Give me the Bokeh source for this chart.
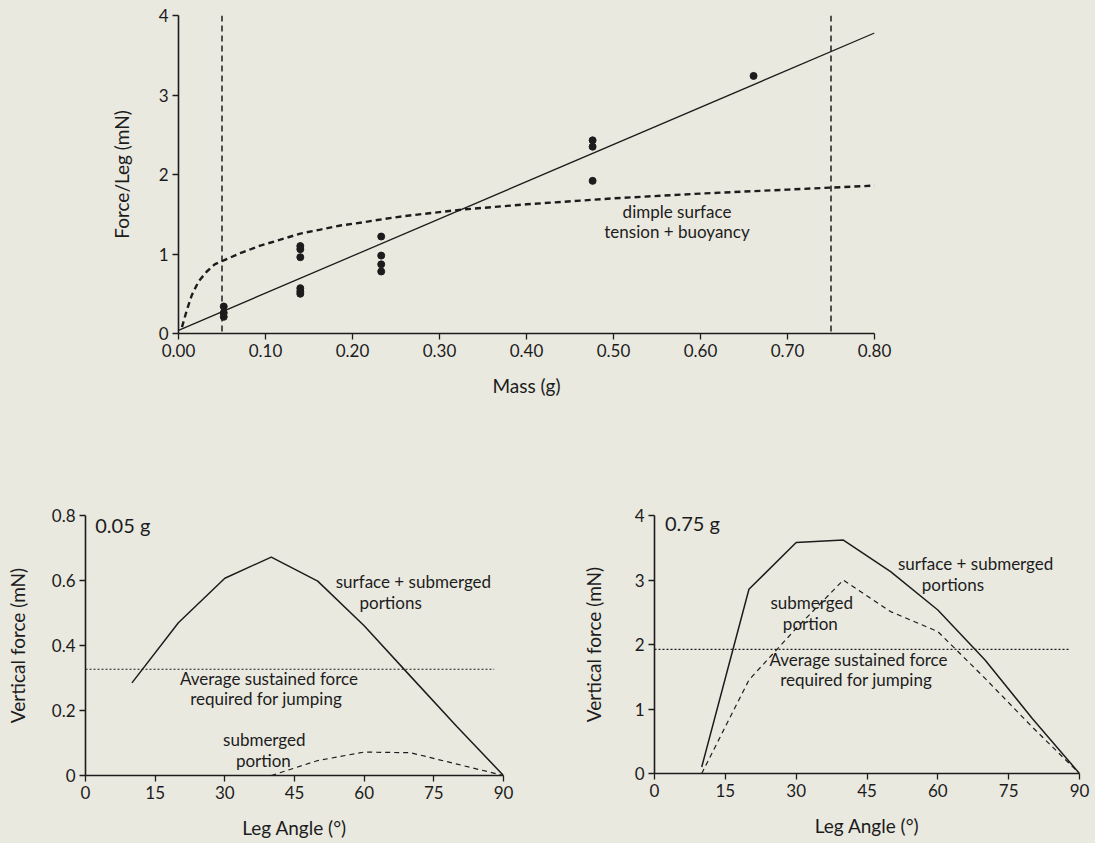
from bokeh.plotting import figure
from bokeh.layouts import column, row
from bokeh.models import Span, NumeralTickFormatter, FixedTicker, Range1d
from bokeh.core.properties import value
from bokeh.embed import file_html
from bokeh.resources import INLINE

# ---------------- data ----------------
# top panel: force per leg vs mass
mass_pts = [0.052, 0.052, 0.052,
            0.140, 0.140, 0.140, 0.140, 0.140, 0.140,
            0.233, 0.233, 0.233, 0.233,
            0.476, 0.476, 0.476,
            0.661]
force_pts = [0.34, 0.26, 0.21,
             1.10, 1.06, 0.96, 0.57, 0.53, 0.50,
             1.22, 0.98, 0.87, 0.78,
             2.43, 2.35, 1.92,
             3.24]
fit_mass = [0.0, 0.80]
fit_force = [0.04, 3.78]
dimple_mass = [0.004, 0.0096, 0.0154, 0.023, 0.0326, 0.042, 0.052, 0.071, 0.094,
               0.117, 0.140, 0.163, 0.186, 0.213, 0.236, 0.259, 0.286, 0.327,
               0.40, 0.50, 0.60, 0.70, 0.80]
dimple_force = [0.08, 0.295, 0.485, 0.654, 0.78, 0.873, 0.92, 1.01, 1.105,
                1.18, 1.257, 1.307, 1.358, 1.40, 1.44, 1.476, 1.51, 1.56,
                1.625, 1.70, 1.76, 1.81, 1.86]
mass_limits = [0.05, 0.75]
top_xticks = [0.0, 0.1, 0.2, 0.3, 0.4, 0.5, 0.6, 0.7, 0.8]
top_yticks = [0, 1, 2, 3, 4]

# bottom panels: vertical force vs leg angle
angles = [10, 20, 30, 40, 50, 60, 70, 80, 90]
total_small = [0.285, 0.47, 0.607, 0.672, 0.598, 0.461, 0.305, 0.15, 0.0]
sub_angles_small = [40, 50, 60, 70, 80, 90]
sub_small = [0.0, 0.046, 0.072, 0.07, 0.035, 0.0]
avg_small = 0.327

total_large = [0.10, 2.857, 3.58, 3.62, 3.13, 2.535, 1.76, 0.854, 0.0]
sub_large = [0.0, 1.45, 2.25, 3.0, 2.51, 2.2, 1.475, 0.72, 0.0]
avg_large = 1.925
avg_span = [0, 88]

angle_ticks = [0, 15, 30, 45, 60, 75, 90]
small_yticks = [0, 0.2, 0.4, 0.6, 0.8]
large_yticks = [0, 1, 2, 3, 4]

BG = "#eae9e0"
INK = "#1c1c1c"
FONT = "Lato"
FONT_V = value(FONT)
TICK_SIZE = "17px"
LABEL_SIZE = "19px"
NOTE_SIZE = "17px"


def style(p, xlabel, ylabel, xticks, yticks, ylab_standoff, xlab_standoff):
    p.background_fill_color = BG
    p.border_fill_color = BG
    p.outline_line_color = None
    p.grid.visible = False
    p.xaxis.axis_label = xlabel
    p.yaxis.axis_label = ylabel
    p.xaxis.ticker = FixedTicker(ticks=xticks)
    p.yaxis.ticker = FixedTicker(ticks=yticks)
    for ax in (p.xaxis[0], p.yaxis[0]):
        ax.axis_line_color = INK
        ax.axis_line_width = 1.6
        ax.major_tick_line_color = INK
        ax.major_tick_line_width = 1.3
        ax.major_tick_out = 6
        ax.major_tick_in = 0
        ax.minor_tick_line_color = None
        ax.major_label_text_font = FONT
        ax.major_label_text_font_size = TICK_SIZE
        ax.major_label_text_color = INK
        ax.major_label_standoff = 4
        ax.axis_label_text_font = FONT
        ax.axis_label_text_font_size = LABEL_SIZE
        ax.axis_label_text_font_style = "normal"
        ax.axis_label_text_color = INK
    p.yaxis.axis_label_standoff = ylab_standoff
    p.xaxis.axis_label_standoff = xlab_standoff


def add_text(p, x, y, s, size=NOTE_SIZE, align="center"):
    p.text(x=[x], y=[y], text=[s], text_font=FONT_V, text_font_size=size,
           text_align=align, text_baseline="middle", text_color=INK)


# ---------------- top panel ----------------
p1 = figure(frame_width=696, frame_height=318, min_border_left=178, min_border_right=221,
            min_border_top=15, min_border_bottom=107,
            x_range=Range1d(0, 0.8), y_range=Range1d(0, 4),
            output_backend="svg", toolbar_location=None)
style(p1, "Mass (g)", "Force/Leg (mN)", top_xticks, top_yticks, 23, 14)
p1.xaxis.formatter = NumeralTickFormatter(format="0.00")

for m in mass_limits:
    p1.add_layout(Span(location=m, dimension="height", line_color=INK,
                       line_width=1.5, line_dash="6 4"))
p1.line(dimple_mass, dimple_force, line_color=INK, line_width=2.4, line_dash="6 4")
p1.line(fit_mass, fit_force, line_color=INK, line_width=1.3)
p1.scatter(mass_pts, force_pts, size=7, fill_color=INK, line_color=INK)
add_text(p1, 0.573, 1.53, "dimple surface")
add_text(p1, 0.573, 1.28, "tension + buoyancy")

# ---------------- bottom-left panel ----------------
p2 = figure(frame_width=418, frame_height=260, min_border_left=85, min_border_right=57,
            min_border_top=73, min_border_bottom=70,
            x_range=Range1d(0, 90), y_range=Range1d(0, 0.8),
            output_backend="svg", toolbar_location=None)
style(p2, "Leg Angle (°)", "Vertical force (mN)", angle_ticks, small_yticks, 20, 14)
p2.yaxis.major_label_overrides = {0: "0", 0.2: "0.2", 0.4: "0.4", 0.6: "0.6", 0.8: "0.8"}

p2.line(avg_span, [avg_small, avg_small], line_color=INK, line_width=1.2, line_dash="2 2")
p2.line(angles, total_small, line_color=INK, line_width=1.5)
p2.line(sub_angles_small, sub_small, line_color=INK, line_width=1.2, line_dash="5 4")
add_text(p2, 2.1, 0.77, "0.05 g", size="20px", align="left")
add_text(p2, 70.6, 0.597, "surface + submerged")
add_text(p2, 65.7, 0.532, "portions")
add_text(p2, 39.5, 0.297, "Average sustained force")
add_text(p2, 38.9, 0.236, "required for jumping")
add_text(p2, 38.5, 0.110, "submerged")
add_text(p2, 38.3, 0.046, "portion")

# ---------------- bottom-right panel ----------------
p3 = figure(frame_width=425, frame_height=258, min_border_left=94, min_border_right=16,
            min_border_top=75, min_border_bottom=70,
            x_range=Range1d(0, 90), y_range=Range1d(0, 4),
            output_backend="svg", toolbar_location=None)
style(p3, "Leg Angle (°)", "Vertical force (mN)", angle_ticks, large_yticks, 27, 14)

p3.line(avg_span, [avg_large, avg_large], line_color=INK, line_width=1.2, line_dash="2 2")
p3.line(angles, total_large, line_color=INK, line_width=1.5)
p3.line(angles, sub_large, line_color=INK, line_width=1.2, line_dash="5 4")
add_text(p3, 2.2, 3.89, "0.75 g", size="20px", align="left")
add_text(p3, 68.0, 3.25, "surface + submerged")
add_text(p3, 63.2, 2.93, "portions")
add_text(p3, 33.3, 2.65, "submerged")
add_text(p3, 33.0, 2.33, "portion")
add_text(p3, 43.2, 1.77, "Average sustained force")
add_text(p3, 42.7, 1.45, "required for jumping")

layout = column(p1, row(p2, p3, spacing=0), spacing=0)
layout.styles = {"background-color": BG}

html = file_html(layout, INLINE)
html = html.replace("<body>", '<body style="background-color:%s;">' % BG, 1)
open("out.html", "w").write(html)
